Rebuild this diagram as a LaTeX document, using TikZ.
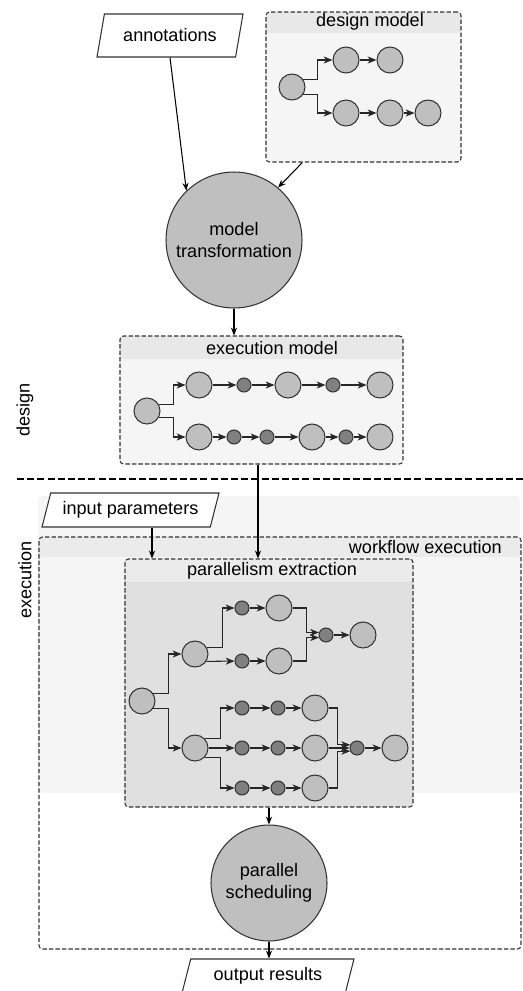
\documentclass[tikz,border=0pt]{standalone}
\usepackage{fontspec}
\setmainfont{Liberation Sans}
\usepackage{tikz}
\usetikzlibrary{shapes.geometric,arrows.meta,fit,calc}

\begin{document}
\begin{tikzpicture}[x=0.02cm, y=-0.02cm, font=\fontsize{10.3}{12.5}\selectfont,
  grand/.style={circle, draw=black!80, fill=gray!50, minimum size=0.52cm, inner sep=0pt, line width=0.6pt},
  petit/.style={circle, draw=black!80, fill=gray, minimum size=0.28cm, inner sep=0pt, line width=0.6pt},
  proc/.style={circle, draw=black!80, fill=gray!50, align=center, inner sep=0pt, line width=0.6pt},
  es/.style={trapezium, trapezium left angle=70, trapezium right angle=110, trapezium stretches body,
    draw=black!80, fill=white, inner sep=2pt, line width=0.6pt},
  boite/.style={draw=black!80, dash pattern=on 2.5pt off 1.2pt, rounded corners=2pt, inner sep=0pt,
    line width=0.6pt, fill=#1},
  entete/.style n args={2}{path picture={\fill[#1] (path picture bounding box.north west)
    rectangle ([yshift=-#2]path picture bounding box.north east);}},
  fl/.style={-{Stealth[length=5pt, width=4pt, inset=1.5pt]}, line width=0.6pt, draw=black!85},
  fleche/.style={-{Stealth[length=4.5pt, width=3.5pt]}, line width=0.6pt}]
\useasboundingbox (0,0) rectangle (523,991);

% Zone d'exécution
\fill[black!4, rounded corners=2pt] (38,496) rectangle (520,793);
\draw[dash pattern=on 4pt off 1.8pt, line width=1.2pt] (17,479) -- (523,479);
\node[rotate=90] (lds) at (25,410) {design};
\node[rotate=90] (lex) at (25,580) {execution};

% Boîtes
\node[boite=black!4, entete={black!9}{12pt}, fit={(266,12) (461,162)}] (dm) {};
\node (tdm) at (370,22) {design model};
\node[boite=black!4, entete={black!9}{13pt}, fit={(120,336) (403,464)}] (em) {};
\node (tem) at (272,348) {execution model};
\node[boite=none, entete={black!8}{11.3pt}, fit={(39,537) (521,949)}] (we) {};
\node[anchor=east] (twe) at (508,547) {workflow execution};
\node[boite=black!12, entete={black!8}{13pt}, fit={(125,559) (413,807)}] (pe) {};
\node (tpe) at (272,571) {parallelism extraction};

% Entrées, sorties et traitements
\node[es, minimum width=2.92cm, minimum height=0.86cm] (ann) at (170,35.5) {annotations};
\node[es, minimum width=3.54cm, minimum height=0.68cm] (ip) at (130.5,510) {input parameters};
\node[es, minimum width=3.44cm, minimum height=0.68cm] (out) at (268,976) {output results};
\node[proc, minimum size=2.72cm] (mt) at (234,240) {model\\transformation};
\node[proc, minimum size=2.32cm] (ps) at (269,883) {parallel\\scheduling};

% Modèle de conception
\node[grand] (d0) at (292,87) {};
\node[grand] (d1) at (346,60) {};
\node[grand] (d2) at (390,60) {};
\node[grand] (d3) at (346,113) {};
\node[grand] (d4) at (390,113) {};
\node[grand] (d5) at (428,113) {};
\draw[fl] (d0.33) -- ++(14,0) |- (d1);
\draw[fl] (d0.-33) -- ++(14,0) |- (d3);
\draw[fl] (d1) -- (d2);
\draw[fl] (d3) -- (d4);
\draw[fl] (d4) -- (d5);

% Modèle d'exécution
\node[grand] (e0) at (147,411) {};
\node[grand] (e1) at (199,385) {};
\node[petit] (e2) at (244,385) {};
\node[grand] (e3) at (288,385) {};
\node[petit] (e4) at (333,385) {};
\node[grand] (e5) at (380,385) {};
\node[grand] (e6) at (199,437) {};
\node[petit] (e7) at (234,437) {};
\node[petit] (e8) at (267,437) {};
\node[grand] (e9) at (312,437) {};
\node[petit] (e10) at (346,437) {};
\node[grand] (e11) at (380,437) {};
\draw[fl] (e0.27) -- ++(14,0) |- (e1);
\draw[fl] (e0.-27) -- ++(14,0) |- (e6);
\foreach \a/\b in {e1/e2, e2/e3, e3/e4, e4/e5, e6/e7, e7/e8, e8/e9, e9/e10, e10/e11}
  \draw[fl] (\a) -- (\b);

% Extraction du parallélisme
\node[grand] (p0) at (142,701) {};
\node[grand] (pA) at (195,654) {};
\node[grand] (pB) at (195,748) {};
\node[petit] (a1) at (242,608) {};
\node[grand] (a2) at (279,608) {};
\node[petit] (a3) at (242,661) {};
\node[grand] (a4) at (279,661) {};
\node[petit] (am) at (326,635) {};
\node[grand] (af) at (363,635) {};
\node[petit] (b1) at (242,708) {};
\node[petit] (b2) at (278,708) {};
\node[grand] (b3) at (315,708) {};
\node[petit] (b4) at (242,748) {};
\node[petit] (b5) at (278,748) {};
\node[grand] (b6) at (315,748) {};
\node[petit] (b7) at (242,788) {};
\node[petit] (b8) at (278,788) {};
\node[grand] (b9) at (315,788) {};
\node[petit] (bm) at (357,748) {};
\node[grand] (bf) at (395,748) {};
\draw[fl] (p0.33) -- ++(15,0) |- (pA);
\draw[fl] (p0.-33) -- ++(15,0) |- (pB);
\draw[fl] (pA.27) -- ++(15,0) |- (a1);
\draw[fl] (pA.-33) -- (a3);
\draw[fl] (a2.east) -- ++(14,0) |- (am.160);
\draw[fl] (a4.east) -- ++(14,0) |- (am.200);
\draw[fl] (pB.44) -- ++(16,0) |- (b1);
\draw[fl] (pB) -- (b4);
\draw[fl] (pB.-44) -- ++(16,0) |- (b7);
\draw[fl] (b3.east) -- ++(9,0) |- (bm.155);
\draw[fl] (b9.east) -- ++(9,0) |- (bm.205);
\foreach \a/\b in {a1/a2, a3/a4, am/af, b1/b2, b2/b3, b4/b5, b5/b6, b7/b8, b8/b9, b6/bm, bm/bf}
  \draw[fl] (\a) -- (\b);

% Flèches principales
\draw[fleche] (ann.center |- ann.south) -- (mt.134);
\draw[fleche] (dm.231) -- (mt.50);
\draw[fleche] (mt.south) -- (mt.south |- em.north);
\draw[fleche] ($(em.south)+(-3.5,0)$) -- ($(em.south |- pe.north)+(-3.5,0)$);
\draw[fleche] ($(ip.center |- ip.south)+(21.5,0)$) -- ($(ip.center |- pe.north)+(21.5,0)$);
\draw[fleche] (pe.south) -- (ps.north);
\draw[fleche] (ps.south) -- (ps.south |- out.north);

\end{tikzpicture}
\end{document}
